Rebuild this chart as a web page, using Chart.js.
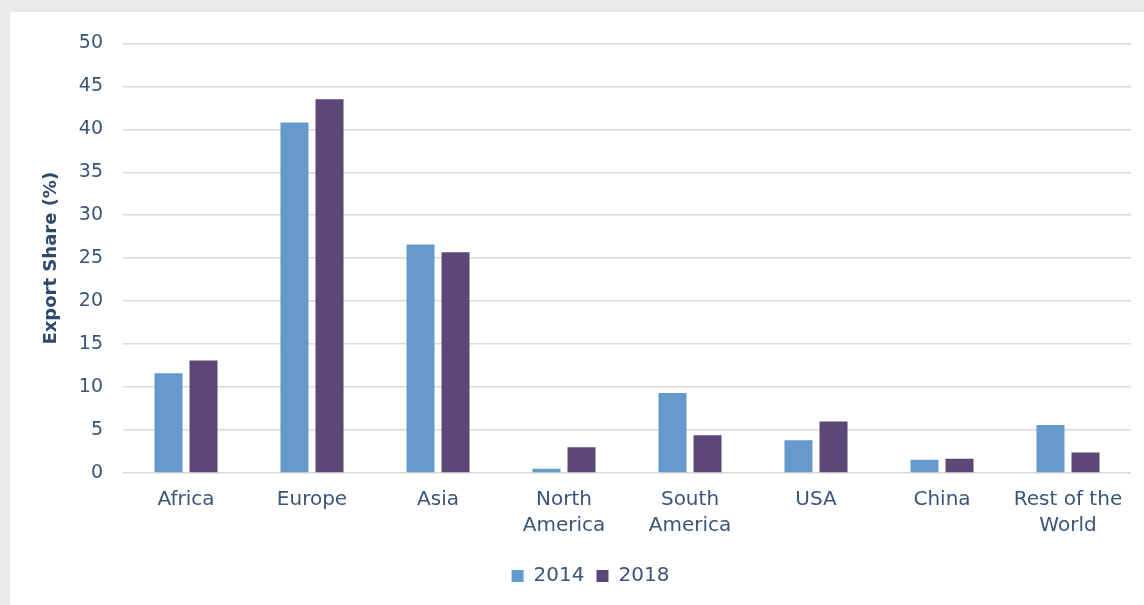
<!DOCTYPE html>
<html>
<head>
<meta charset="utf-8">
<script src="https://cdn.jsdelivr.net/npm/chart.js@4.4.0/dist/chart.umd.min.js"></script>
<style>
  html, body { margin: 0; padding: 0; background: #ebebeb; }
  body { width: 1144px; height: 605px; overflow: hidden; position: relative; }
  #frame { position: absolute; left: 10px; top: 12px; width: 1134px; height: 593px; background: #ffffff; }
</style>
</head>
<body>
<div id="frame"><canvas id="exportChart" width="1134" height="593"></canvas></div>
<script>
// Regions and export shares by year
const regions = ["Africa", ["Europe"], "Asia", ["North", "America"], ["South", "America"], "USA", "China", ["Rest of the", "World"]];
const share2014 = [11.6, 40.8, 26.6, 0.5, 9.3, 3.8, 1.55, 5.6];
const share2018 = [13.1, 43.5, 25.7, 3.0, 4.4, 6.0, 1.65, 2.4];
const yTicks = [0, 5, 10, 15, 20, 25, 30, 35, 40, 45, 50];

const textColor = "#3a5578";
const fontFamily = "'DejaVu Sans', sans-serif";

// nudge the legend a little right of the canvas centre
const legendShift = {
  id: "legendShift",
  afterUpdate(chart) {
    const lg = chart.legend;
    if (lg) { lg.left += 20; lg.right += 20; }
  }
};

const ctx = document.getElementById("exportChart").getContext("2d");

new Chart(ctx, {
  type: "bar",
  data: {
    labels: regions,
    datasets: [
      {
        label: "2014",
        data: share2014,
        backgroundColor: "#6699cc",
        barPercentage: 0.8,
        categoryPercentage: 0.556
      },
      {
        label: "2018",
        data: share2018,
        backgroundColor: "#5d4777",
        barPercentage: 0.8,
        categoryPercentage: 0.556
      }
    ]
  },
  options: {
    responsive: false,
    animation: false,
    layout: {
      padding: { top: 27, right: 13, left: 0, bottom: 9 }
    },
    plugins: {
      tooltip: { enabled: false },
      legend: {
        position: "bottom",
        labels: {
          color: textColor,
          boxWidth: 12,
          boxHeight: 12,
          padding: 12,
          font: { family: fontFamily, size: 20 }
        }
      }
    },
    scales: {
      x: {
        grid: { display: false, drawTicks: false },
        border: { display: false },
        ticks: {
          color: textColor,
          padding: 14,
          maxRotation: 0,
          font: { family: fontFamily, size: 20, lineHeight: 1.3 }
        },
        afterFit: scale => { scale.height = 81; }
      },
      y: {
        min: 0,
        max: 50,
        afterBuildTicks: scale => {
          scale.ticks = yTicks.map(v => ({ value: v }));
        },
        grid: { color: "#dadada", lineWidth: 1.5, drawTicks: false },
        border: { display: false },
        ticks: {
          color: textColor,
          padding: 20,
          font: { family: fontFamily, size: 19 }
        },
        title: {
          display: true,
          text: "Export Share (%)",
          color: "#2e4a6b",
          padding: { top: 31, bottom: 0 },
          font: { family: fontFamily, size: 18, weight: "bold", lineHeight: 1.2 }
        },
        afterFit: scale => { scale.width = 113; }
      }
    }
  },
  plugins: [legendShift]
});
</script>
</body>
</html>
